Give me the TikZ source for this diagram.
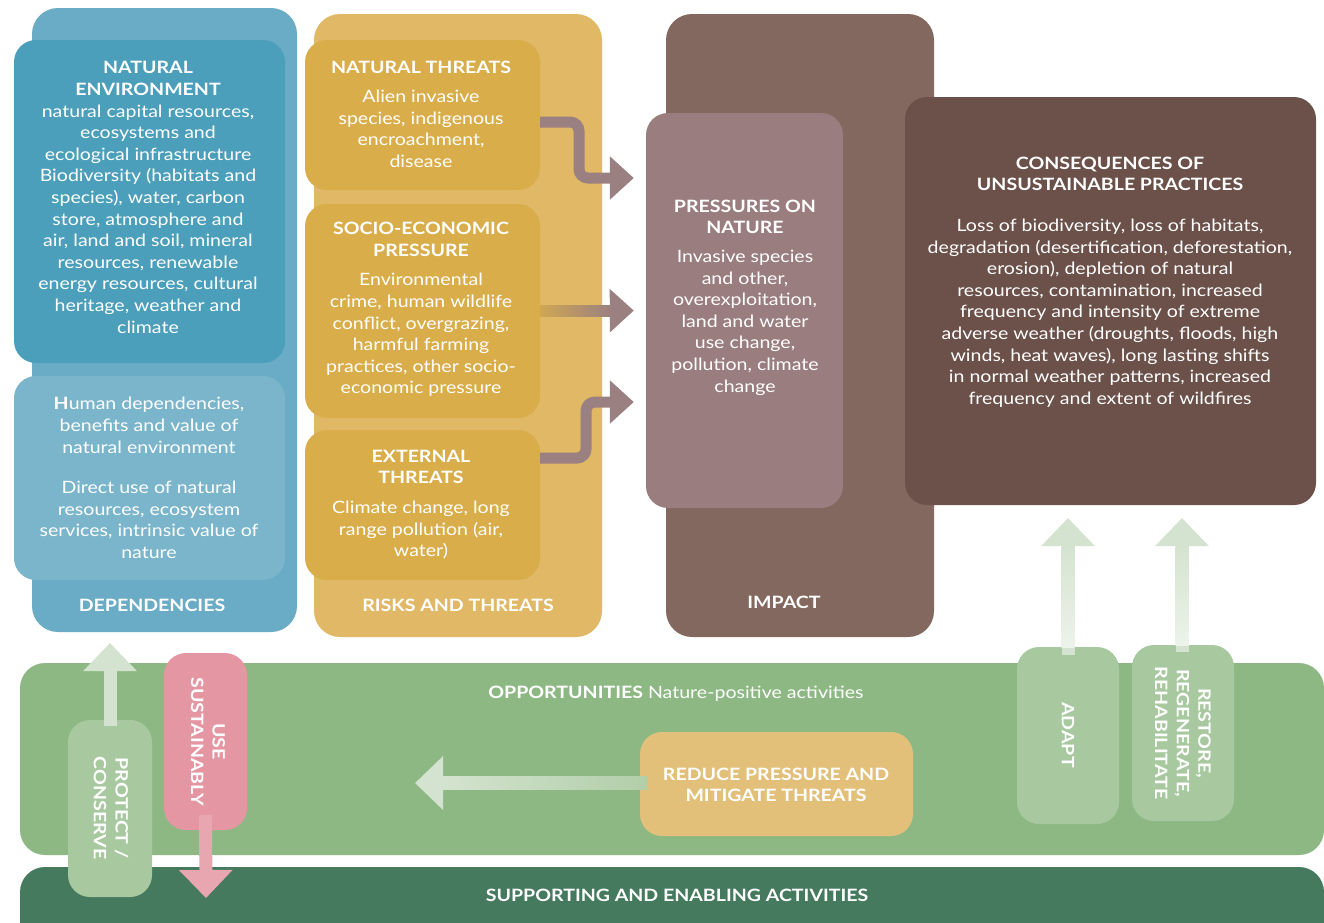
\documentclass[tikz,border=0pt]{standalone}
\usepackage{fontspec}
\setmainfont{Lato}[FakeStretch=1.15]
\usetikzlibrary{arrows.meta,calc}
\definecolor{depback}{HTML}{6AABC6}
\definecolor{natenv}{HTML}{4B9FBB}
\definecolor{human}{HTML}{7AB5CB}
\definecolor{riskback}{HTML}{E0B866}
\definecolor{threat}{HTML}{D9AD4A}
\definecolor{impback}{HTML}{83685F}
\definecolor{press}{HTML}{9A7D7E}
\definecolor{conseq}{HTML}{6B514A}
\definecolor{mauve}{HTML}{9B8081}
\definecolor{opp}{HTML}{8DB884}
\definecolor{supp}{HTML}{467A5E}
\definecolor{lgreen}{HTML}{A8C99F}
\definecolor{pink}{HTML}{E596A3}
\definecolor{pinkarrow}{HTML}{E8A6B0}
\definecolor{reduce}{HTML}{E3C07A}
\definecolor{lightarrow}{HTML}{D4E3CF}
\definecolor{paleend}{HTML}{EDF3EB}
\begin{document}
\begin{tikzpicture}[x=1pt,y=-1pt,
  box/.style={rounded corners=22pt, inner sep=0pt, draw=none},
  txt/.style={text=white, align=center, inner sep=0pt, font=\fontsize{17}{21.6}\selectfont},
  hd/.style={txt, font=\fontsize{17}{21.6}\selectfont\bfseries},
  thr/.style={draw=mauve, line width=11pt, rounded corners=9pt, -{Triangle[width=42pt,length=24pt]}},
  big/.style={line width=13pt, -{Triangle[width=52pt,length=28pt]}}]
\useasboundingbox (0,0) rectangle (1324,922);
\clip (0,0) rectangle (1324,922);
% bands
\node[box, fill=opp, minimum width=1304pt, minimum height=192pt, rounded corners=25pt] (opp) at (672,759) {};
\node[box, fill=supp, minimum width=1304pt, minimum height=90pt, rounded corners=25pt] (supp) at (672,912) {};
\node[txt] (opptxt) at (676,694) {\textbf{OPPORTUNITIES} Nature-positive activities};
\node[hd] (supptxt) at (677,895) {SUPPORTING AND ENABLING ACTIVITIES};
% back boxes
\node[box, fill=depback, minimum width=265pt, minimum height=624pt, rounded corners=26pt] (dep) at (164.5,320) {};
\node[box, fill=riskback, minimum width=288pt, minimum height=623pt, rounded corners=26pt] (risk) at (458,325.5) {};
\node[box, fill=impback, minimum width=268pt, minimum height=623pt, rounded corners=26pt] (imp) at (800,325.5) {};
\node[hd] (deplab) at (152,605) {DEPENDENCIES};
\node[hd] (risklab) at (458,605) {RISKS AND THREATS};
\node[hd] (implab) at (784,602) {IMPACT};
% dependencies
\node[box, fill=natenv, minimum width=271pt, minimum height=323pt] (ne) at (149.5,201.5) {};
\node[txt] (netxt) at (148,197.5) {\textbf{NATURAL}\\\textbf{ENVIRONMENT}\\natural capital resources,\\ecosystems and\\ecological infrastructure\\Biodiversity (habitats and\\species), water, carbon\\store, atmosphere and\\air, land and soil, mineral\\resources, renewable\\energy resources, cultural\\heritage, weather and\\climate};
\node[box, fill=human, minimum width=271pt, minimum height=204pt] (hu) at (149.5,478) {};
\node[txt] (hutxt) at (149,478) {\textbf{H}uman dependencies,\\benefits and value of\\natural environment\\[19pt]Direct use of natural\\resources, ecosystem\\services, intrinsic value of\\nature};
% threats
\node[box, fill=threat, minimum width=235pt, minimum height=150pt] (nt) at (422.5,115) {};
\node[txt] (nttxt) at (421,114.5) {\textbf{NATURAL THREATS}\\[7pt]Alien invasive\\species, indigenous\\encroachment,\\disease};
\node[box, fill=threat, minimum width=235pt, minimum height=214pt] (se) at (422.5,311) {};
\node[txt] (setxt) at (421,309.5) {\textbf{SOCIO-ECONOMIC}\\\textbf{PRESSURE}\\[8pt]Environmental\\crime, human wildlife\\conflict, overgrazing,\\harmful farming\\practices, other socio-\\economic pressure};
\node[box, fill=threat, minimum width=235pt, minimum height=150pt] (et) at (422.5,505) {};
\node[txt] (ettxt) at (421,504.5) {\textbf{EXTERNAL}\\\textbf{THREATS}\\[8pt]Climate change, long\\range pollution (air,\\water)};
% impact
\node[box, fill=press, minimum width=197pt, minimum height=395pt] (pn) at (744.5,310.5) {};
\node[txt] (pntxt) at (745,297.5) {\textbf{PRESSURES ON}\\\textbf{NATURE}\\[7pt]Invasive species\\and other,\\overexploitation,\\land and water\\use change,\\pollution, climate\\change};
\node[box, fill=conseq, minimum width=411pt, minimum height=408pt] (cq) at (1110.5,301) {};
\node[txt] (cqtxt) at (1110,282) {\textbf{CONSEQUENCES OF}\\\textbf{UNSUSTAINABLE PRACTICES}\\[19pt]Loss of biodiversity, loss of habitats,\\degradation (desertification, deforestation,\\erosion), depletion of natural\\resources, contamination, increased\\frequency and intensity of extreme\\adverse weather (droughts, floods, high\\winds, heat waves), long lasting shifts\\in normal weather patterns, increased\\frequency and extent of wildfires};
% threat connectors
\draw[thr, shorten >=12pt] ($(nt.east)+(0,7)$) -- (579,122) -- (579,178) -- ($(pn.west)+(0,-132.5)$);
\draw[thr, shorten >=12pt] (se.east) -- (pn.west);
\shade[left color=threat!85!mauve, right color=mauve] (540,305.5) rectangle (612,316.5);
\draw[thr, shorten >=12pt] ($(et.east)+(0,-47)$) -- (586,458) -- (586,402) -- ($(pn.west)+(0,91.5)$);
% opportunities
\node[box, fill=lgreen, minimum width=84pt, minimum height=177pt] (pc) at (110,808.5) {};
\node[hd, rotate=-90] (pctxt) at (111,808) {PROTECT /\\CONSERVE};
\coordinate (pctip) at (110,643);
\draw[big, draw=lightarrow] ($(pc.north)+(0,6)$) -- (pctip);
\node[box, fill=pink, minimum width=83pt, minimum height=177pt] (us) at (205.5,741.5) {};
\node[hd, rotate=-90] (ustxt) at (208,741.5) {USE\\SUSTAINABLY};
\coordinate (ustip) at (206,898);
\draw[big, draw=pinkarrow] ($(us.south)+(0,-15)$) -- (ustip);
\node[box, fill=reduce, minimum width=273pt, minimum height=104pt] (rp) at (776.5,784) {};
\node[hd] (rptxt) at (776,785) {REDUCE PRESSURE AND\\MITIGATE THREATS};
\coordinate (rptip) at (415,783);
\draw[big, draw=lightarrow] ($(rp.west)+(7,-1)$) -- (rptip);
\shade[left color=lightarrow, right color=lgreen!80!lightarrow] (443,776.5) rectangle (647,789.5);
\node[box, fill=lgreen, minimum width=102pt, minimum height=177pt] (ad) at (1068,735.5) {};
\node[hd, rotate=-90] (adtxt) at (1068,735) {ADAPT};
\node[box, fill=lgreen, minimum width=102pt, minimum height=176pt] (rs) at (1183,733) {};
\node[hd, rotate=-90] (rstxt) at (1183,733) {RESTORE,\\REGENERATE,\\REHABILITATE};
\coordinate (adtip) at (1068,518);
\coordinate (rstip) at (1182,518);
\draw[big, draw=lightarrow] ($(ad.north)+(0,8)$) -- (adtip);
\draw[big, draw=lightarrow] (1182,652) -- (rstip);
\shade[top color=lightarrow, bottom color=paleend] (1061.5,546) rectangle (1074.5,647);
\shade[top color=lightarrow, bottom color=paleend] (1175.5,546) rectangle (1188.5,645);
\end{tikzpicture}
\end{document}
